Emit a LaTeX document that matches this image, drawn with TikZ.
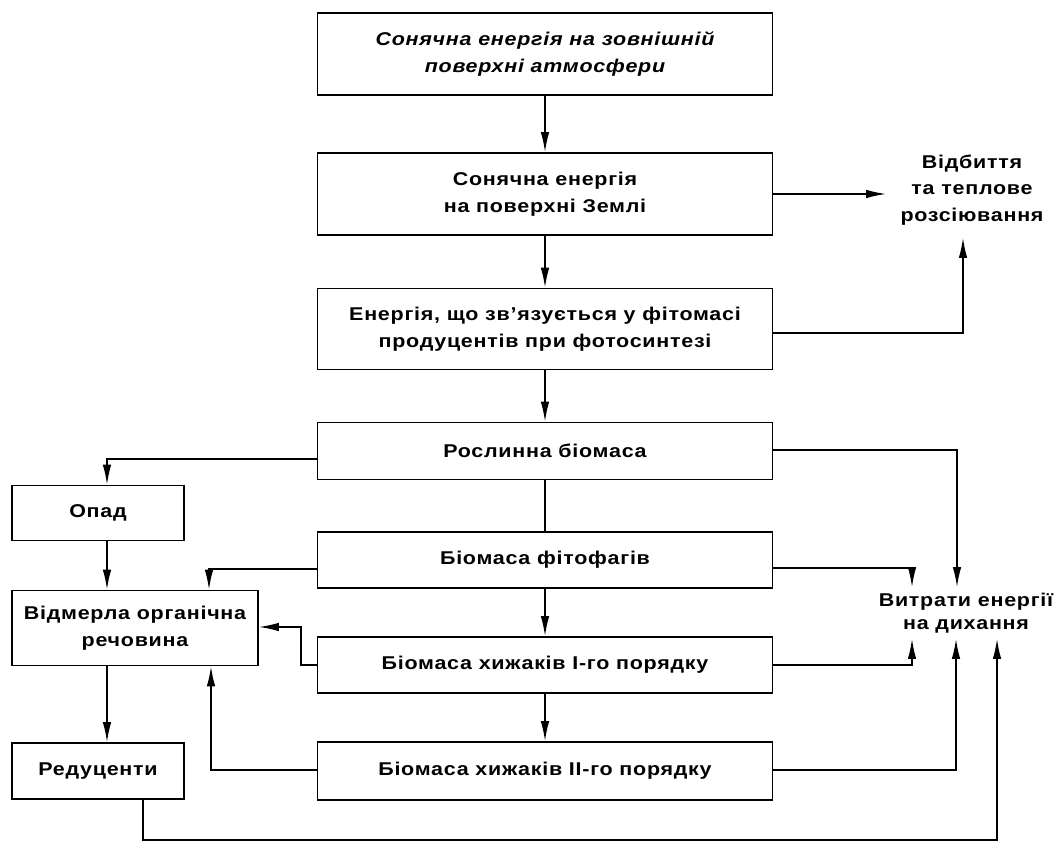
\documentclass[tikz,border=0pt]{standalone}
\usepackage{fontspec}
\setmainfont[FakeStretch=1.16, LetterSpace=4]{Liberation Sans}
\usetikzlibrary{arrows.meta}
\begin{document}
\begin{tikzpicture}[x=1pt,y={(0pt,-1pt)},
  line width=1.6pt,
  every node/.style={font=\bfseries\fontsize{18.5}{27}\selectfont, align=center},
  box/.style={draw, rectangle, minimum width=455pt, inner sep=0pt},
  sidebox/.style={draw, rectangle, minimum width=172pt, inner sep=0pt},
  arr/.style={-{Latex[length=20pt,width=8.5pt]}},
  lbl/.style={inner sep=0pt}]
\useasboundingbox (0,0) rectangle (1059,843);

% main chain
\node[box, minimum height=82pt] (b1) at (545,54)
  {\itshape Сонячна енергія на зовнішній\\ \itshape поверхні атмосфери};
\node[box, minimum height=82pt] (b2) at (545,194)
  {Сонячна енергія\\ на поверхні Землі};
\node[box, minimum height=81pt] (b3) at (545,329)
  {Енергія, що зв’язується у фітомасі\\ продуцентів при фотосинтезі};
\node[box, minimum height=57pt] (b4) at (545,451) {Рослинна біомаса};
\node[box, minimum height=56pt] (b5) at (545,560) {Біомаса фітофагів};
\node[box, minimum height=56pt] (b6) at (545,665) {Біомаса хижаків I-го порядку};
\node[box, minimum height=58pt] (b7) at (545,771) {Біомаса хижаків II-го порядку};

% detritus branch
\node[sidebox, minimum height=55pt] (opad) at (98,513) {Опад};
\node[sidebox, minimum width=246pt, minimum height=75pt] (vidm) at (135,628)
  {Відмерла органічна\\ речовина};
\node[sidebox, minimum height=56pt] (red) at (98,771) {Редуценти};

% losses
\node[lbl, minimum width=170pt, minimum height=94pt,
  font=\bfseries\fontsize{18.5}{26.5}\selectfont] (vidb) at (972,190)
  {Відбиття\\ та теплове\\ розсіювання};
\node[lbl, minimum height=50pt,
  font=\bfseries\fontsize{18.5}{23}\selectfont] (vytr) at (966,613)
  {Витрати енергії\\ на дихання};

\coordinate (botL) at (143,840);
\coordinate (botR) at (997,840);

% vertical flow
\draw[arr] (b1) -- (b2);
\draw[arr] (b2) -- (b3);
\draw[arr] (b3) -- (b4);
\draw (b4) -- (b5);
\draw[arr] (b5) -- (b6);
\draw[arr] (b6) -- (b7);

% reflection
\draw[arr] (b2.east) -- (b2.east -| vidb.west);
\draw[arr] ([yshift=-4pt]b3.east) -| ([xshift=-9pt]vidb.south);

% respiration
\draw[arr] ([yshift=1pt]b4.east) -| (vytr.north -| 957,0);
\draw[arr] ([yshift=-8pt]b5.east) -| (vytr.north -| 912,0);
\draw[arr] (b6.east) -| (vytr.south -| 912,0);
\draw[arr] ([yshift=1pt]b7.east) -| (vytr.south -| 956,0);

% detritus
\draw[arr] ([yshift=-8pt]b4.west) -| ([xshift=9pt]opad.north);
\draw[arr] ([xshift=9pt]opad.south) -- ([xshift=9pt]opad.south |- vidm.north);
\draw[arr] ([yshift=-9pt]b5.west) -| (vidm.north -| 209,0);
\draw[arr] (b6.west) -| (301,627) -- (vidm.east |- 0,627);
\draw[arr] ([yshift=1pt]b7.west) -| (vidm.south -| 211,0);
\draw[arr] (vidm.south -| 107,0) -- (red.north -| 107,0);
\draw[arr] (red.south -| botL) -- (botL) -- (botR) -- (vytr.south -| botR);
\end{tikzpicture}
\end{document}
